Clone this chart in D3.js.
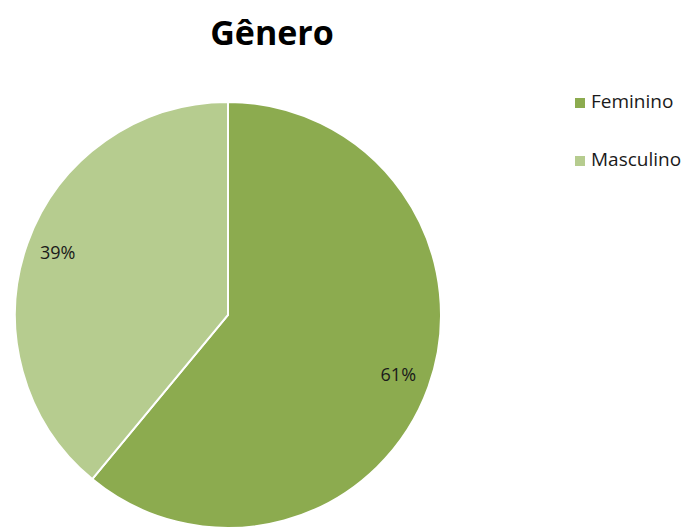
<!DOCTYPE html>
<html>
<head>
<meta charset="utf-8">
<script src="https://cdn.jsdelivr.net/npm/d3@7"></script>
<style>
  body { margin: 0; background: #fff; }
  svg { display: block; }
</style>
</head>
<body>
<div id="chart"></div>
<script>
// data
const categories = ["Feminino", "Masculino"];
const values = [61, 39];
const colors = ["#8CAB4F", "#B6CC8F"];

const width = 697;
const height = 529;
const center = { x: 228, y: 315 };
const radius = 213;
const labelRadius = 181;

const svg = d3
  .select("#chart")
  .append("svg")
  .attr("width", width)
  .attr("height", height);

const data = categories.map((c, i) => ({ name: c, value: values[i], color: colors[i] }));

const pie = d3.pie().sort(null).value((d) => d.value);
const arc = d3.arc().innerRadius(0).outerRadius(radius);
const labelArc = d3.arc().innerRadius(labelRadius).outerRadius(labelRadius);

const g = svg.append("g").attr("transform", `translate(${center.x},${center.y})`);

const slices = g.selectAll(".slice").data(pie(data)).enter().append("g").classed("slice", true);

slices
  .append("path")
  .attr("d", arc)
  .attr("fill", (d) => d.data.color)
  .attr("stroke", "#fff")
  .attr("stroke-width", 2);

slices
  .append("text")
  .attr("transform", (d) => `translate(${labelArc.centroid(d)})`)
  .attr("text-anchor", "middle")
  .attr("dominant-baseline", "middle")
  .style("font-family", "Open Sans, sans-serif")
  .style("font-size", "18px")
  .style("fill", "#1a1a1a")
  .text((d) => `${d.data.value}%`);

// title
svg
  .append("text")
  .attr("x", 272)
  .attr("y", 45)
  .attr("text-anchor", "middle")
  .style("font-family", "Open Sans, sans-serif")
  .style("font-weight", "bold")
  .style("font-size", "34px")
  .style("fill", "#000")
  .text("Gênero");

// legend
const legend = svg
  .selectAll(".legend")
  .data(data)
  .enter()
  .append("g")
  .classed("legend", true)
  .attr("transform", (d, i) => `translate(575,${103 + i * 58})`);

legend
  .append("rect")
  .attr("x", 0)
  .attr("y", -5)
  .attr("width", 10)
  .attr("height", 10)
  .attr("fill", (d) => d.color);

legend
  .append("text")
  .attr("x", 16)
  .attr("y", 0)
  .attr("dominant-baseline", "middle")
  .style("font-family", "Open Sans, sans-serif")
  .style("font-size", "19px")
  .style("fill", "#1a1a1a")
  .text((d) => d.name);
</script>
</body>
</html>
